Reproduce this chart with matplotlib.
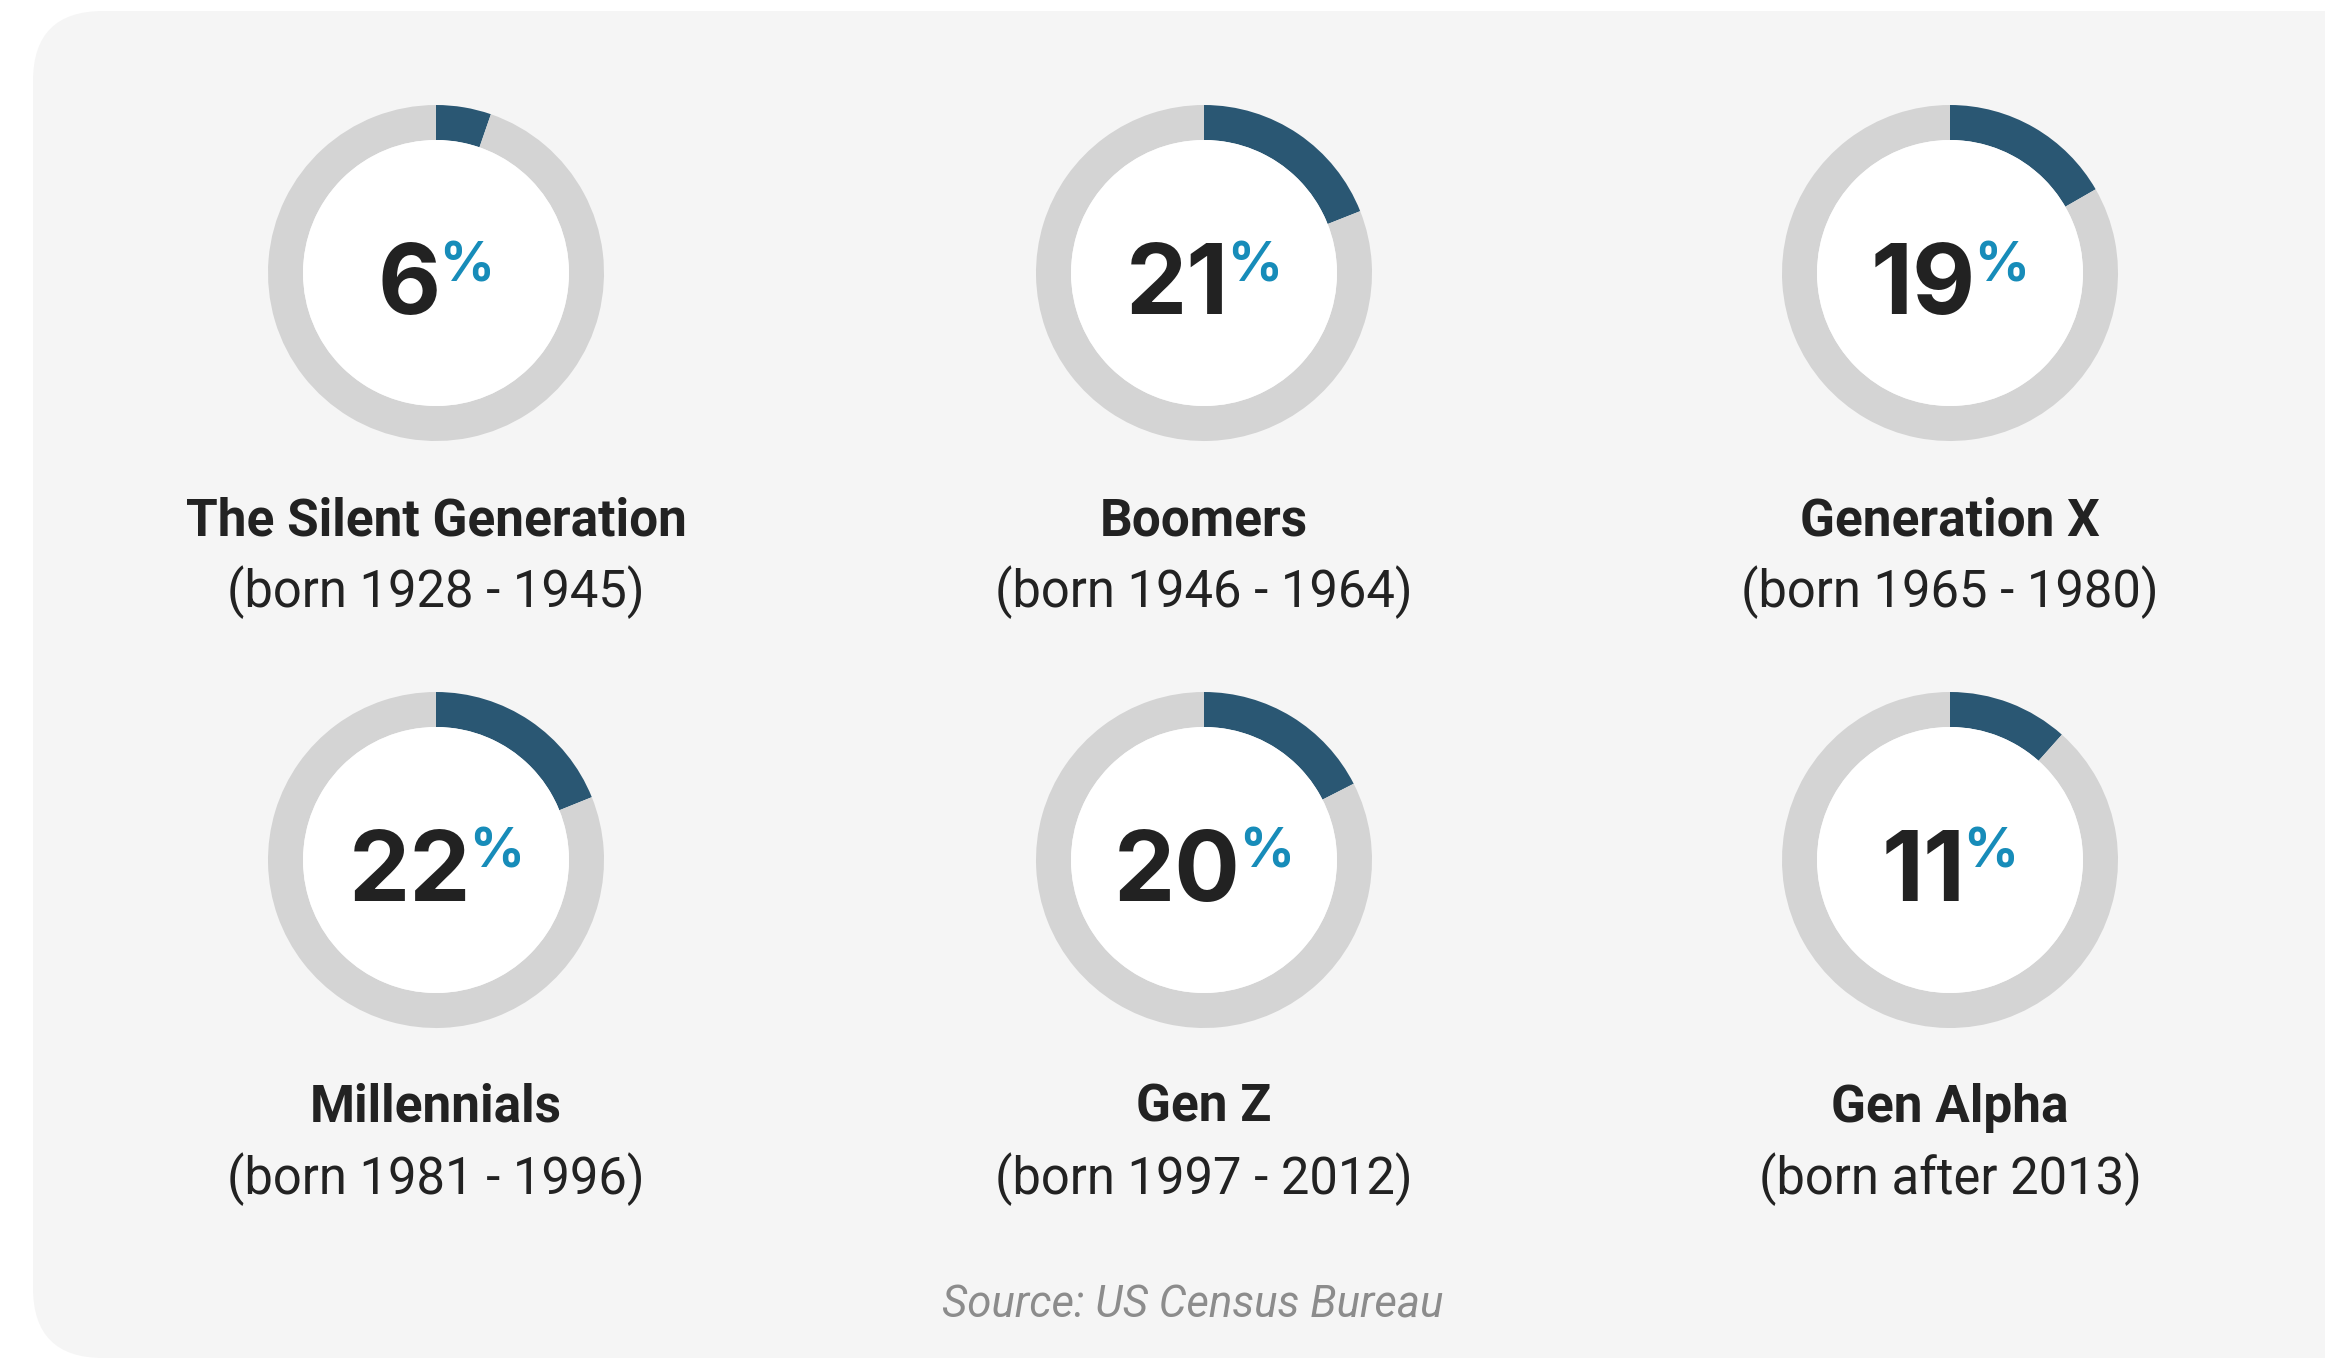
import matplotlib
matplotlib.use("Agg")
import matplotlib.pyplot as plt
from matplotlib.patches import FancyBboxPatch, Circle

# ---- data ----
generations = ["The Silent Generation", "Boomers", "Generation X",
               "Millennials", "Gen Z", "Gen Alpha"]
born = ["(born 1928 - 1945)", "(born 1946 - 1964)", "(born 1965 - 1980)",
        "(born 1981 - 1996)", "(born 1997 - 2012)", "(born after 2013)"]
shares = [6, 21, 19, 22, 20, 11]
# arc lengths as drawn in the original gauges (percent of full ring)
arc_pct = [5.3, 19.0, 16.7, 18.9, 17.5, 11.6]
source = "Source: US Census Bureau"

# ---- layout (pixels, y measured from top) ----
W, H = 2325, 1360
col_x = [436, 1204, 1950]
row_y = [273, 860]
R_OUT, R_IN = 168, 133

DARK = "#2a5773"
GREY = "#d4d4d4"
PCT = "#178cb9"
TXT = "#222222"

fig = plt.figure(figsize=(W / 100, H / 100), dpi=100)
fig.patch.set_facecolor("white")
ax = fig.add_axes([0, 0, 1, 1])

panel = FancyBboxPatch((33 + 70, 2 + 70), W + 100 - 103 - 70, H - 11 - 2 - 140,
                       boxstyle="round,pad=70", fc="#f5f5f5", ec="none", zorder=0)
ax.add_patch(panel)

texts = []
for i, (name, yrs, val, arc) in enumerate(zip(generations, born, shares, arc_pct)):
    cx = col_x[i % 3]
    cy = H - row_y[i // 3]
    ax.pie([arc, 100 - arc], colors=[DARK, GREY], startangle=90, counterclock=False,
           center=(cx, cy), radius=R_OUT,
           wedgeprops=dict(width=R_OUT - R_IN, linewidth=0), frame=True)
    ax.add_patch(Circle((cx, cy), R_IN, fc="white", ec="none", zorder=3))

    num = ax.text(cx, cy - 41, f"{val}", fontsize=70, fontweight="bold",
                  family="Inter", color=TXT, ha="left", va="baseline", zorder=5)
    pct = ax.text(cx, cy - 8, "%", fontsize=39, fontweight="bold",
                  family="Inter", color=PCT, ha="left", va="baseline", zorder=5)
    texts.append((cx, num, pct))

    ax.text(cx, cy - 262, name, fontsize=37, fontweight="bold", family="Roboto",
            color=TXT, ha="center", va="baseline")
    ax.text(cx, cy - 334, yrs, fontsize=36.5, family="Roboto",
            color=TXT, ha="center", va="baseline")

ax.text(1193, H - 1317, source, fontsize=31.5, style="italic", family="Roboto",
        color="#8c8c8c", ha="center", va="baseline")

ax.set_xlim(0, W)
ax.set_ylim(0, H)
ax.set_aspect("equal")
ax.axis("off")

# center number + % group inside each ring
fig.canvas.draw()
r = fig.canvas.get_renderer()
gap = -2
for cx, num, pct in texts:
    wn = num.get_window_extent(r).width
    wp = pct.get_window_extent(r).width
    left = cx - (wn + gap + wp) / 2
    num.set_x(left)
    pct.set_x(left + wn + gap)

fig.savefig("out.png", dpi=100, facecolor="white")
